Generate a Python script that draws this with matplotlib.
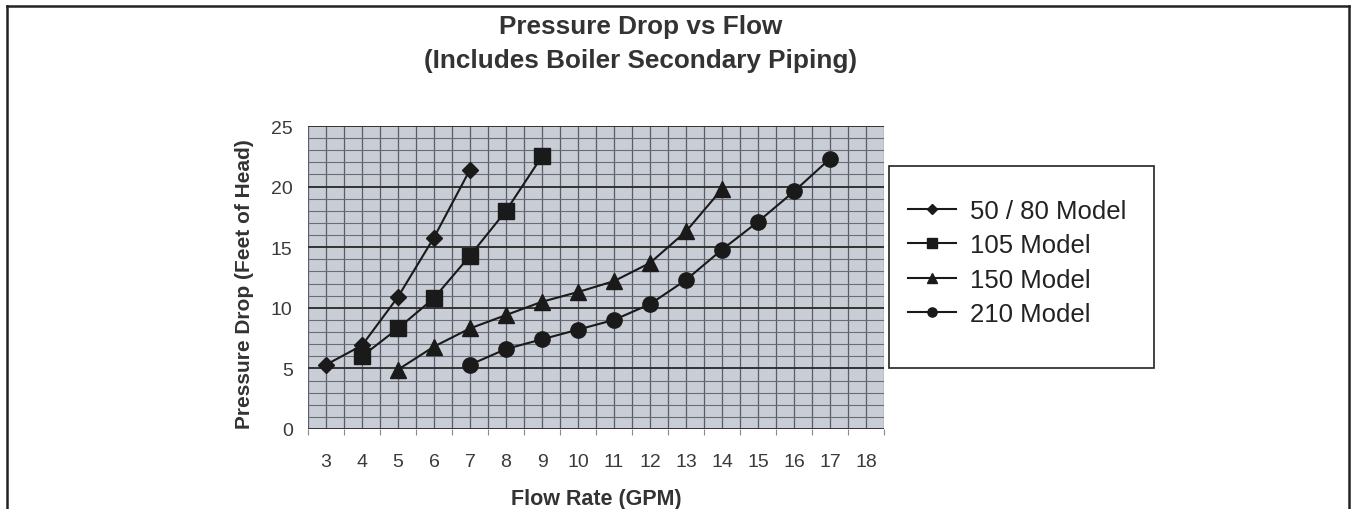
import numpy as np
import matplotlib
matplotlib.use("Agg")
import matplotlib.pyplot as plt
from matplotlib.lines import Line2D
from matplotlib.patches import Rectangle
from matplotlib.ticker import MultipleLocator

plt.rcParams['font.family'] = ['Liberation Sans', 'DejaVu Sans']

# flow rate categories (GPM)
flow_ticks = list(range(3, 19))

# pressure drop (feet of head) per model
x_50_80 = [3, 4, 5, 6, 7]
y_50_80 = [5.3, 6.9, 10.9, 15.8, 21.4]
x_105 = [4, 5, 6, 7, 8, 9]
y_105 = [6.0, 8.3, 10.8, 14.3, 18.0, 22.5]
x_150 = [5, 6, 7, 8, 9, 10, 11, 12, 13, 14]
y_150 = [4.9, 6.8, 8.3, 9.4, 10.5, 11.3, 12.2, 13.7, 16.3, 19.8]
x_210 = [7, 8, 9, 10, 11, 12, 13, 14, 15, 16, 17]
y_210 = [5.3, 6.6, 7.4, 8.2, 9.0, 10.3, 12.3, 14.8, 17.1, 19.6, 22.3]

labels = ['50 / 80 Model', '105 Model', '150 Model', '210 Model']

fig = plt.figure(figsize=(13.52, 5.10), dpi=100)
ax = fig.add_axes([308 / 1352, 1 - 430 / 510, 576 / 1352, 303 / 510])
ax.set_facecolor('#c9cdd6')

ax.set_xlim(2.5, 18.5)
ax.set_ylim(0, 25)
ax.set_xticks(flow_ticks)
ax.set_xticks(np.arange(2.5, 19, 1.0), minor=True)
ax.yaxis.set_major_locator(MultipleLocator(5))
ax.yaxis.set_minor_locator(MultipleLocator(1))

# grid
ax.grid(which='minor', axis='y', color='#6a6d75', lw=0.8)
ax.grid(which='major', axis='y', color='#333333', lw=1.4)
ax.grid(which='both', axis='x', color='#5a5d66', lw=0.9)
ax.set_axisbelow(True)
for s in ax.spines.values():
    s.set_visible(False)

ax.tick_params(axis='x', which='major', length=0, pad=17, labelsize=14, labelcolor='#3a3a3a')
ax.tick_params(axis='x', which='minor', length=4, color='#8a8a8a', width=0.8)
ax.tick_params(axis='y', which='both', length=0, pad=11, labelsize=14, labelcolor='#3a3a3a')

line_kw = dict(color='#1a1a1a', lw=1.5, markeredgecolor='#1a1a1a', markerfacecolor='#1a1a1a')
ax.plot(x_50_80, y_50_80, marker='D', ms=8, label=labels[0], **line_kw)
ax.plot(x_105, y_105, marker='s', ms=11, label=labels[1], **line_kw)
ax.plot(x_150, y_150, marker='^', ms=11.5, label=labels[2], **line_kw)
ax.plot(x_210, y_210, marker='o', ms=11, label=labels[3], **line_kw)

ax.set_xlabel('Flow Rate (GPM)', fontsize=15.5, fontweight='bold', color='#333333')
ax.xaxis.set_label_coords(0.5, -0.195)
ax.set_ylabel('Pressure Drop (Feet of Head)', fontsize=15, fontweight='bold', color='#333333')
ax.yaxis.set_label_coords(-0.093, 0.48)

fig.suptitle('Pressure Drop vs Flow\n(Includes Boiler Secondary Piping)', x=641 / 1352, y=1 - 15 / 510,
             fontsize=18.8, fontweight='bold', color='#333333', linespacing=1.55, va='top')

# legend
fig.legend(loc='upper left', bbox_to_anchor=(908 / 1352, 1 - 200 / 510), frameon=False,
           fontsize=18.5, handlelength=1.85, handletextpad=0.57, labelspacing=0.4,
           borderpad=0, borderaxespad=0, markerscale=0.6, labelcolor='#222222')
fig.patches.append(Rectangle((889 / 1352, 1 - 369 / 510), 265 / 1352, 202 / 510,
                             transform=fig.transFigure, fill=False, ec='#222222', lw=1.2))

# outer border (left, top, right)
border = dict(color='#222222', lw=1.8, transform=fig.transFigure)
fig.lines.append(Line2D([7 / 1352, 7 / 1352], [0, 1 - 6.5 / 510], **border))
fig.lines.append(Line2D([7 / 1352, 1348.5 / 1352], [1 - 6.5 / 510, 1 - 6.5 / 510], **border))
fig.lines.append(Line2D([1348.5 / 1352, 1348.5 / 1352], [0, 1 - 6.5 / 510], **border))

fig.savefig('out.png', dpi=100)
